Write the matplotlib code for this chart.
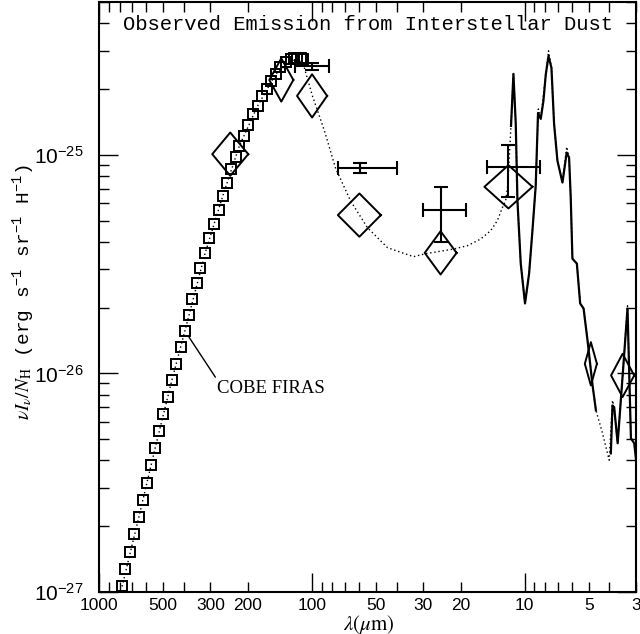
import numpy as np
import matplotlib
matplotlib.use("Agg")
import matplotlib.pyplot as plt
from matplotlib.ticker import FixedLocator, FuncFormatter, LogLocator, NullFormatter

plt.rcParams['mathtext.fontset'] = 'stix'

# COBE FIRAS points (wavelength in micron, nu I_nu / N_H in erg s-1 sr-1 H-1)
firas_lam = [779, 754, 715, 684, 650, 623, 595, 571, 545, 520, 498, 475, 455, 434,
             414, 394, 377, 364, 348, 334, 317, 303, 287, 273, 262, 251, 240, 228,
             219, 208, 199, 190, 180, 172, 162, 156, 148, 141, 133, 126, 121, 117,
             113, 109.6]
firas_val = [1.06e-27, 1.27e-27, 1.52e-27, 1.84e-27, 2.20e-27, 2.63e-27, 3.16e-27,
             3.80e-27, 4.55e-27, 5.43e-27, 6.50e-27, 7.77e-27, 9.29e-27, 1.103e-26,
             1.318e-26, 1.56e-26, 1.86e-26, 2.18e-26, 2.58e-26, 3.04e-26, 3.56e-26,
             4.15e-26, 4.83e-26, 5.61e-26, 6.50e-26, 7.47e-26, 8.61e-26, 9.76e-26,
             1.099e-25, 1.22e-25, 1.37e-25, 1.53e-25, 1.68e-25, 1.85e-25, 2.00e-25,
             2.18e-25, 2.35e-25, 2.52e-25, 2.65e-25, 2.74e-25, 2.77e-25, 2.77e-25,
             2.76e-25, 2.74e-25]

# dust model (dotted)
model_lam = [779, 650, 545, 455, 377, 317, 262, 219, 180, 148, 126, 115.7, 108.5,
             99.4, 91.2, 86.4, 77.5, 65.9, 54.8, 44.1, 33.3, 29.2, 21.5, 18.6, 16.1,
             14.45, 13.45, 12.73, 12.29, 12.02, 11.77, 11.51, 11.30, 11.02, 10.82,
             10.44, 9.97, 9.54, 9.20, 8.88, 8.63, 8.41, 7.96, 7.73, 7.49, 7.28, 7.02,
             6.65, 6.35, 6.19, 6.08, 5.97, 5.69, 5.49, 5.29, 5.07, 4.80, 4.63, 4.31,
             4.01, 3.87, 3.80, 3.66, 3.47, 3.29, 3.17, 3.06, 2.97]
model_val = [1.06e-27, 2.20e-27, 4.55e-27, 9.29e-27, 1.86e-26, 3.56e-26, 6.50e-26,
             1.10e-25, 1.67e-25, 2.34e-25, 2.69e-25, 2.74e-25, 2.50e-25, 1.86e-25,
             1.46e-25, 1.247e-25, 8.72e-26, 6.17e-26, 4.64e-26, 3.76e-26, 3.42e-26,
             3.53e-26, 3.71e-26, 3.84e-26, 4.12e-26, 4.50e-26, 5.00e-26, 5.74e-26,
             6.17e-26, 7.22e-26, 1.043e-25, 1.588e-25, 2.39e-25, 1.39e-25, 6.16e-26,
             3.18e-26, 2.09e-26, 2.86e-26, 4.50e-26, 7.22e-26, 1.62e-25, 1.46e-25,
             2.34e-25, 2.99e-25, 2.50e-25, 1.39e-25, 9.39e-26, 7.47e-26, 1.088e-25,
             9.72e-26, 6.38e-26, 3.35e-26, 3.18e-26, 2.09e-26, 1.98e-26, 1.415e-26,
             8.81e-27, 6.78e-27, 5.32e-27, 4.01e-27, 7.53e-27, 7.00e-27, 4.79e-27,
             9.69e-27, 2.04e-26, 5.05e-27, 4.79e-27, 3.72e-27]

# observed mid-IR spectrum (solid), nan marks the gap
spec_lam = [11.60, 11.30, 11.02, 10.82, 10.44, 9.97, 9.54, 9.20, 8.88, 8.66, 8.41,
            8.17, 7.96, 7.73, 7.49, 7.28, 7.02, 6.65, 6.35, 6.19, 6.08, 5.97, 5.69,
            5.49, 5.29, 5.07, 4.80, 4.63, np.nan, 3.94, 3.87, 3.80, 3.66, 3.47, 3.29,
            3.17, 3.06, 2.97]
spec_val = [1.357e-25, 2.34e-25, 1.386e-25, 6.16e-26, 3.18e-26, 2.09e-26, 2.86e-26,
            4.50e-26, 7.22e-26, 1.555e-25, 1.46e-25, 1.764e-25, 2.34e-25, 2.83e-25,
            2.50e-25, 1.386e-25, 9.39e-26, 7.47e-26, 1.024e-25, 9.72e-26, 6.38e-26,
            3.35e-26, 3.18e-26, 2.09e-26, 1.98e-26, 1.415e-26, 8.81e-27, 6.78e-27,
            np.nan, 4.31e-27, 7.14e-27, 7.00e-27, 4.79e-27, 9.69e-27, 1.98e-26,
            5.05e-27, 4.79e-27, 3.72e-27]

# band-averaged model (diamonds)
band_lam = [241.8, 139.2, 99.8, 59.8, 24.85, 11.93, 4.89, 3.47]
band_lo = [199.0, 122.2, 84.8, 47.4, 20.9, 9.20, 4.58, 3.06]
band_hi = [293.8, 158.5, 117.4, 75.5, 29.5, 15.47, 5.22, 3.93]
band_val = [1.007e-25, 2.20e-25, 1.86e-25, 5.30e-26, 3.56e-26, 7.14e-26, 1.107e-26,
            9.79e-27]

# observations with error bars
err_lam = [99.8, 59.6, 24.85, 11.93]
err_lam_lo = [82.7, 40.0, 18.9, 8.50]
err_lam_hi = [119.6, 75.6, 30.0, 14.98]
err_val = [2.55e-25, 8.75e-26, 5.59e-26, 8.81e-26]
err_val_lo = [2.44e-25, 8.25e-26, 4.01e-26, 6.38e-26]
err_val_hi = [2.64e-25, 9.17e-26, 7.16e-26, 1.111e-25]

x_labels = [1000, 500, 300, 200, 100, 50, 30, 20, 10, 5, 3]

fig = plt.figure(figsize=(6.4, 6.34), dpi=100)
ax = fig.add_axes([0.1547, 0.0662, 0.8391, 0.9306])
ax.set_xscale('log')
ax.set_yscale('log')
ax.set_xlim(1000, 3)
ax.set_ylim(1e-27, 5e-25)

ax.plot(model_lam, model_val, color='k', lw=1.0, ls=(0, (1, 2.0)))
ax.plot(spec_lam, spec_val, color='k', lw=1.6)
ax.plot(firas_lam, firas_val, 's', mfc='none', mec='k', ms=7.3, mew=1.4)

hh = 10 ** 0.099  # half height of diamonds (factor)
for lc, lo, hi, v in zip(band_lam, band_lo, band_hi, band_val):
    ax.plot([lo, lc, hi, lc, lo], [v, v * hh, v, v / hh, v], color='k', lw=1.4)

ex = np.array(err_lam)
ey = np.array(err_val)
ax.errorbar(ex, ey,
            xerr=[ex - np.array(err_lam_lo), np.array(err_lam_hi) - ex],
            yerr=[ey - np.array(err_val_lo), np.array(err_val_hi) - ey],
            fmt='none', ecolor='k', elinewidth=1.5, capsize=5.2, capthick=1.5)

ax.annotate('COBE FIRAS', xy=(394, 1.56e-26), xytext=(278.5, 8.54e-27),
            fontsize=13.5, family='Liberation Serif', ha='left', va='center',
            arrowprops=dict(arrowstyle='-', color='k', lw=1.0, relpos=(0, 1),
                            shrinkA=0, shrinkB=5))

ax.text(0.5, 0.962, 'Observed Emission from Interstellar Dust', transform=ax.transAxes,
        ha='center', va='center', fontsize=14.8, family='Liberation Mono')

# ticks
ax.xaxis.set_major_locator(FixedLocator([1000, 100, 10]))
ax.xaxis.set_minor_locator(LogLocator(base=10, subs=np.arange(2, 10), numticks=20))
lab = lambda v, p: ('%g' % v) if any(abs(v - t) < 1e-6 * t for t in x_labels) else ''
ax.xaxis.set_major_formatter(FuncFormatter(lab))
ax.xaxis.set_minor_formatter(FuncFormatter(lab))
ax.yaxis.set_major_locator(FixedLocator([1e-27, 1e-26, 1e-25]))
ax.yaxis.set_minor_locator(LogLocator(base=10, subs=np.arange(2, 10), numticks=20))
ax.yaxis.set_major_formatter(FuncFormatter(
    lambda v, p: r'$\mathregular{10^{%d}}$' % int(round(np.log10(v)))))
ax.yaxis.set_minor_formatter(NullFormatter())

ax.tick_params(which='both', direction='in', top=True, right=True, width=1.0)
ax.tick_params(which='major', length=14)
ax.tick_params(which='minor', length=7)
ax.tick_params(axis='x', which='both', pad=4, labelsize=12.5)
ax.tick_params(axis='y', which='both', pad=11, labelsize=15)
for t in ax.get_xticklabels(which='both') + ax.get_yticklabels():
    t.set_family('Liberation Sans')
for s in ax.spines.values():
    s.set_linewidth(1.5)

fig.text(369 / 640., 1 - 624 / 634., r'$\lambda(\mu{\rm m})$', fontsize=15,
         ha='center', va='center')
fig.text(0.037, 1 - 292 / 634.,
         r'$\nu I_\nu/N_{\rm H}$ (erg s$^{\mathregular{-1}}$ sr$^{\mathregular{-1}}$ H$^{\mathregular{-1}}$)',
         rotation=90, ha='center', va='center', fontsize=14, family='Liberation Mono')

fig.savefig('out.png', dpi=100)
